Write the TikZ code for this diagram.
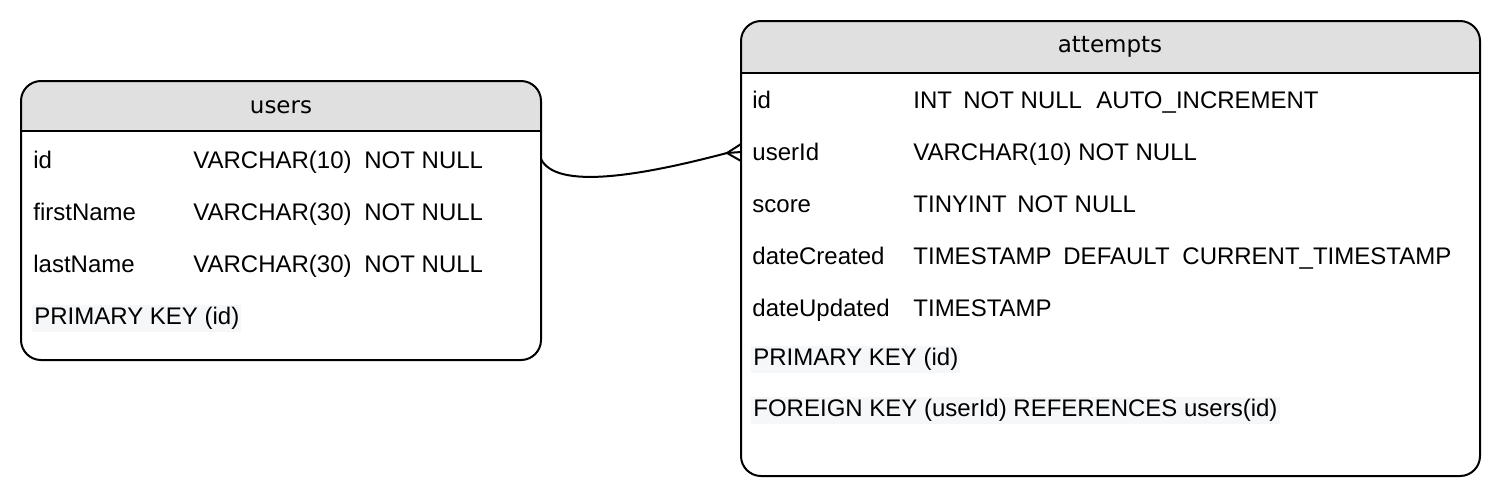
\documentclass[tikz,border=0pt]{standalone}
\usepackage{fontspec}
\setmainfont{Liberation Sans}
\newfontfamily\hdrfont{DejaVu Sans}
\definecolor{hdr}{HTML}{E0E0E0}
\definecolor{hl}{HTML}{F6F7F9}
\begin{document}
\begin{tikzpicture}[x=0.5pt,y=-0.5pt,
  tbl/.style={inner sep=0pt, outer sep=0pt},
  border/.style={draw=black, line width=1pt, rounded corners=10pt},
  txt/.style={anchor=base west, inner sep=0pt, font=\fontsize{12}{14}\selectfont},
  keytxt/.style={txt, fill=hl, inner xsep=1pt, text height=9.5pt, text depth=4pt},
  hdrtxt/.style={inner sep=0pt, font=\hdrfont\fontsize{11.5}{13}\selectfont},
  conn/.style={draw=black, line width=1pt}]
\useasboundingbox (0,0) rectangle (1502,498);

% ---------- users ----------
\node[tbl, minimum width=260pt, minimum height=139.5pt] (users) at (281,220.5) {};
\begin{scope}
  \clip[rounded corners=10pt] (users.north west) rectangle (users.south east);
  \fill[hdr] (users.north west) rectangle ([yshift=-25pt]users.north east);
\end{scope}
\draw[line width=1pt] ([yshift=-25pt]users.north west) -- ([yshift=-25pt]users.north east);
\draw[border] (users.north west) rectangle (users.south east);
\node[hdrtxt] (usersT) at (281,107) {users};

\node[txt] (u1) at (33,168) {id};
\node[txt] (u1b) at (193,168) {VARCHAR(10)};
\node[txt] (u1c) at (364,168) {NOT NULL};
\node[txt] (u2) at (33,220) {firstName};
\node[txt] (u2b) at (193,220) {VARCHAR(30)};
\node[txt] (u2c) at (364,220) {NOT NULL};
\node[txt] (u3) at (33,272) {lastName};
\node[txt] (u3b) at (193,272) {VARCHAR(30)};
\node[txt] (u3c) at (364,272) {NOT NULL};
\node[keytxt] (u4) at (32,324) {PRIMARY KEY (id)};

% ---------- attempts ----------
\node[tbl, minimum width=369.5pt, minimum height=227.5pt] (attempts) at (1110.5,248.5) {};
\begin{scope}
  \clip[rounded corners=10pt] (attempts.north west) rectangle (attempts.south east);
  \fill[hdr] (attempts.north west) rectangle ([yshift=-26pt]attempts.north east);
\end{scope}
\draw[line width=1pt] ([yshift=-26pt]attempts.north west) -- ([yshift=-26pt]attempts.north east);
\draw[border] (attempts.north west) rectangle (attempts.south east);
\node[hdrtxt] (attemptsT) at (1110,47) {attempts};

\node[txt] (a1) at (752,108) {id};
\node[txt] (a1b) at (913,108) {INT};
\node[txt] (a1c) at (963,108) {NOT NULL};
\node[txt] (a1d) at (1096,108) {AUTO\_INCREMENT};
\node[txt] (a2) at (752,160) {userId};
\node[txt] (a2b) at (913,160) {VARCHAR(10) NOT NULL};
\node[txt] (a3) at (752,212) {score};
\node[txt] (a3b) at (913,212) {TINYINT};
\node[txt] (a3c) at (1017,212) {NOT NULL};
\node[txt] (a4) at (752,264) {dateCreated};
\node[txt] (a4b) at (913,264) {TIMESTAMP};
\node[txt] (a4c) at (1063,264) {DEFAULT};
\node[txt] (a4d) at (1182,264) {CURRENT\_TIMESTAMP};
\node[txt] (a5) at (752,316) {dateUpdated};
\node[txt] (a5b) at (913,316) {TIMESTAMP};
\node[keytxt] (a6) at (751,365) {PRIMARY KEY (id)};
\node[keytxt] (a7) at (751,416) {FOREIGN KEY (userId) REFERENCES users(id)};

% ---------- connector ----------
\coordinate (cstart) at (users.east |- 0,159);
\coordinate (cend) at (attempts.west |- 0,152);
\coordinate (cf) at (727,153);
\coordinate (cfT) at (attempts.west |- 0,144);
\coordinate (cfB) at (attempts.west |- 0,161);
\draw[conn] (cstart) .. controls (556,190) and (640,176) .. (cf) -- (cend);
\draw[conn] (cfT) -- (cf) -- (cfB);
\end{tikzpicture}
\end{document}
